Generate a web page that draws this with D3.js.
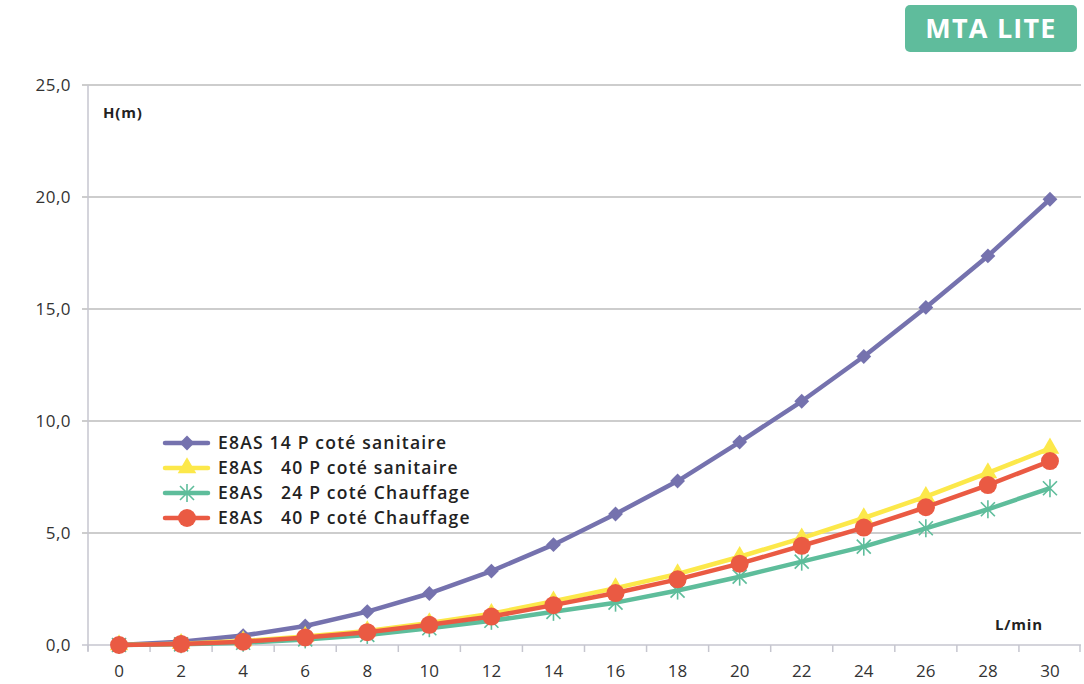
<!DOCTYPE html>
<html><head><meta charset="utf-8">
<script src="https://cdn.jsdelivr.net/npm/d3@7"></script>
<style>body{margin:0;background:#fff}svg{display:block}text{font-family:"Open Sans","Noto Sans",sans-serif}</style>
</head><body><svg id="c" width="1084" height="684"></svg>
<script>
const categories = ["0","2","4","6","8","10","12","14","16","18","20","22","24","26","28","30"];
const yTicks = [0,5,10,15,20,25];
const seriesNames = ["E8AS 14 P coté sanitaire","E8AS   40 P coté sanitaire","E8AS   24 P coté Chauffage","E8AS   40 P coté Chauffage"];
const purple = [0,0.15,0.42,0.85,1.49,2.3,3.3,4.48,5.85,7.32,9.06,10.88,12.88,15.07,17.37,19.9];
const yellow = [0,0.06,0.18,0.38,0.63,0.98,1.4,1.95,2.54,3.17,3.94,4.77,5.67,6.62,7.68,8.78];
const green  = [0,0.03,0.1,0.25,0.45,0.75,1.08,1.48,1.89,2.43,3.05,3.72,4.39,5.21,6.06,7.0];
const red    = [0,0.05,0.15,0.34,0.57,0.9,1.27,1.78,2.32,2.93,3.63,4.43,5.24,6.15,7.14,8.21];
const colors = ["#7572ae","#fce84a","#5ebd9b","#ea5a43"];
const markers = ["diamond","triangle","star","circle"];

const svg = d3.select("#c");
const L=88, R=1081, T=85, B=645;
const x = d3.scaleBand().domain(categories).range([L,R]);
const y = d3.scaleLinear().domain([0,25]).range([B,T]);

svg.append("g").selectAll("line").data(yTicks.filter(d=>d>0)).join("line")
  .attr("x1",L-6).attr("x2",R).attr("y1",d=>y(d)).attr("y2",d=>y(d))
  .attr("stroke","#bdbdbd").attr("stroke-width",1.5);
svg.append("line").attr("x1",L).attr("x2",L).attr("y1",T).attr("y2",B+6).attr("stroke","#c6c6cf").attr("stroke-width",1.5);
svg.append("line").attr("x1",L-6).attr("x2",R).attr("y1",B).attr("y2",B).attr("stroke","#c6c6cf").attr("stroke-width",1.5);
const bounds = categories.map(c=>x(c)).concat([R-1]);
svg.append("g").selectAll("line").data(bounds).join("line")
  .attr("x1",d=>d).attr("x2",d=>d).attr("y1",B).attr("y2",B+7).attr("stroke","#c6c6cf").attr("stroke-width",1.5);
svg.append("g").selectAll("text").data(yTicks).join("text")
  .attr("x",71).attr("y",d=>y(d)+6).attr("text-anchor","end").attr("font-size",17).attr("letter-spacing",0.5).attr("fill","#333")
  .text(d=>d3.format(".1f")(d).replace(".",","));
svg.append("g").selectAll("text").data(categories).join("text")
  .attr("x",d=>x(d)+x.bandwidth()/2).attr("y",677).attr("text-anchor","middle").attr("font-size",17).attr("fill","#333")
  .text(d=>d);
svg.append("text").attr("x",103).attr("y",118).attr("font-size",15).attr("font-weight",700).attr("letter-spacing",0.8).attr("fill","#222").text("H(m)");
svg.append("text").attr("x",995).attr("y",630).attr("font-size",15).attr("font-weight",700).attr("letter-spacing",0.8).attr("fill","#222").text("L/min");

const cx = d=>x(d)+x.bandwidth()/2;
function marker(g,type,color){
  if(type==="diamond") g.append("path").attr("d",d3.symbol(d3.symbolSquare,110)()).attr("transform","rotate(45)").attr("fill",color);
  else if(type==="triangle") g.append("path").attr("d",d3.symbol(d3.symbolTriangle,150)()).attr("fill",color);
  else if(type==="circle") g.append("circle").attr("r",9).attr("fill",color);
  else if(type==="star") {
    [[-7,-7,7,7],[-7,7,7,-7],[0,-9,0,9]].forEach(s=>g.append("line")
      .attr("x1",s[0]).attr("y1",s[1]).attr("x2",s[2]).attr("y2",s[3]).attr("stroke",color).attr("stroke-width",1.6));
  }
}
const data=[purple,yellow,green,red];
const line = d3.line().x((d,i)=>cx(categories[i])).y(d=>y(d));
[0,1,2,3].forEach(k=>{
  const g=svg.append("g");
  g.append("path").attr("d",line(data[k])).attr("fill","none").attr("stroke",colors[k]).attr("stroke-width",4.5).attr("stroke-linejoin","round");
  data[k].forEach((v,i)=>{
    const m=g.append("g").attr("transform",`translate(${cx(categories[i])},${y(v)})`);
    marker(m,markers[k],colors[k]);
  });
});

const lg = svg.append("g");
seriesNames.forEach((n,k)=>{
  const yy=443+k*25;
  lg.append("line").attr("x1",165).attr("x2",208).attr("y1",yy).attr("y2",yy).attr("stroke",colors[k]).attr("stroke-width",4.5).attr("stroke-linecap","round");
  const m=lg.append("g").attr("transform",`translate(187,${yy})`);
  marker(m,markers[k],colors[k]);
  lg.append("text").attr("x",218).attr("y",yy+6).attr("font-size",17.5).attr("font-weight",600).attr("letter-spacing",1.2).attr("fill","#222").style("white-space","pre").text(n);
});

svg.append("rect").attr("x",905).attr("y",5).attr("width",172).attr("height",47).attr("rx",5).attr("fill","#5fbc9c");
svg.append("text").attr("x",991).attr("y",38).attr("text-anchor","middle").attr("font-size",27).attr("font-weight",700).attr("letter-spacing",1.2).attr("fill","#fff").text("MTA LITE");
</script></body></html>
